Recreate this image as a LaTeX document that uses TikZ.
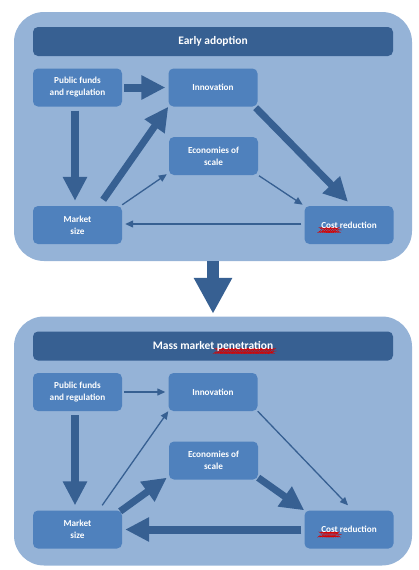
\documentclass[tikz,border=0pt]{standalone}
\usepackage{fontspec}
\setmainfont{Carlito}
\usetikzlibrary{arrows.meta, decorations.pathmorphing}

\definecolor{panelblue}{HTML}{95B3D7}
\definecolor{boxblue}{HTML}{4F81BD}
\definecolor{darkblue}{HTML}{376092}

% red wavy underline of the spell checker
\newsavebox{\wavebox}
\newcommand{\redwave}[1]{\sbox{\wavebox}{#1}\rlap{\tikz[overlay, baseline=0pt]
  \draw[red!85!black, line width=0.3pt, decorate, decoration={zigzag, segment length=2.4pt, amplitude=0.45pt}]
  (0pt,-1.8pt) -- (\wd\wavebox,-1.8pt);}\usebox{\wavebox}}

\begin{document}
\begin{tikzpicture}[x=1pt, y=-1pt,
  panel/.style={fill=panelblue, rounded corners=30pt, minimum width=398pt, minimum height=249pt},
  banner/.style={fill=darkblue, rounded corners=5pt, minimum width=360pt, minimum height=29pt,
    text=white, font=\fontsize{11.5}{14}\selectfont\bfseries},
  box/.style={fill=boxblue, rounded corners=5pt, minimum width=89pt, minimum height=38pt,
    inner sep=0pt, align=center, text=white, font=\fontsize{9.2}{12}\selectfont\bfseries},
  bigarrow/.style={draw=darkblue, line width=8pt, -{Triangle[length=24pt,width=23pt]}},
  thinarrow/.style={draw=darkblue, line width=1.3pt, -{Triangle[length=8pt,width=7pt]}},
  stagearrow/.style={draw=darkblue, line width=12pt, -{Triangle[length=36pt,width=36pt]}}]

  \useasboundingbox (0,0) rectangle (419,570);

  % Early adoption
  \node[panel] (early) at (213,136.5) {};
  \node[banner] (earlyT) at (213,41.5) {Early adoption};
  \node[box] (pubA) at (77.5,87.5) {Public funds\\and regulation};
  \node[box] (innA) at (213,87.5) {Innovation};
  \node[box] (ecoA) at (213.5,156) {Economies of\\scale};
  \node[box] (mktA) at (77.5,225) {Market\\size};
  \node[box] (costA) at (349,225) {\redwave{Cost} reduction};

  \draw[bigarrow, shorten <=2pt, shorten >=3pt] (pubA.east) -- (innA.west);
  \draw[bigarrow, shorten <=4pt, shorten >=5pt] ([xshift=-2.5pt]pubA.south) -- ([xshift=-2.5pt]mktA.north);
  \draw[bigarrow, line width=7pt] ([shift={(-19,-6)}]mktA.north east) -- (innA.south west);
  \draw[bigarrow, line width=7pt] ([shift={(-2,1)}]innA.south east) -- ([shift={(-1,-4)}]costA.north);
  \draw[thinarrow] ([yshift=1pt]mktA.north east) -- ([shift={(-2,-1)}]ecoA.south west);
  \draw[thinarrow, shorten <=1pt, shorten >=2pt] (ecoA.south east) -- (costA.north west);
  \draw[thinarrow, shorten <=3pt, shorten >=3pt] ([yshift=1pt]costA.west) -- ([yshift=1pt]mktA.east);

  % Mass market penetration
  \begin{scope}[yshift=-304.5pt]
    \node[panel] (mass) at (213,136.5) {};
    \node[banner] (massT) at (213,41.5) {Mass market \redwave{penetration}};
    \node[box] (pubB) at (77.5,87.5) {Public funds\\and regulation};
    \node[box] (innB) at (213,87.5) {Innovation};
    \node[box] (ecoB) at (213.5,156) {Economies of\\scale};
    \node[box] (mktB) at (77.5,225) {Market\\size};
    \node[box] (costB) at (349,225) {\redwave{Cost} reduction};

    \draw[thinarrow, shorten <=2pt, shorten >=3pt] (pubB.east) -- (innB.west);
    \draw[bigarrow, shorten <=4pt, shorten >=5pt] ([xshift=-2.5pt]pubB.south) -- ([xshift=-2.5pt]mktB.north);
    \draw[thinarrow] ([shift={(-20,-5)}]mktB.north east) -- (innB.south west);
    \draw[thinarrow] (innB.south east) -- ([shift={(-1,-5)}]costB.north);
    \draw[bigarrow, line width=7pt] ([shift={(-2,1)}]mktB.north east) -- ([shift={(-2,-2)}]ecoB.south west);
    \draw[bigarrow, line width=7pt] ([yshift=2pt]ecoB.south east) -- (costB.north west);
    \draw[bigarrow, shorten <=3pt, shorten >=3pt] (costB.west) -- (mktB.east);
  \end{scope}

  \draw[stagearrow, shorten >=2.5pt] (early.south) -- (mass.north);

\end{tikzpicture}
\end{document}
